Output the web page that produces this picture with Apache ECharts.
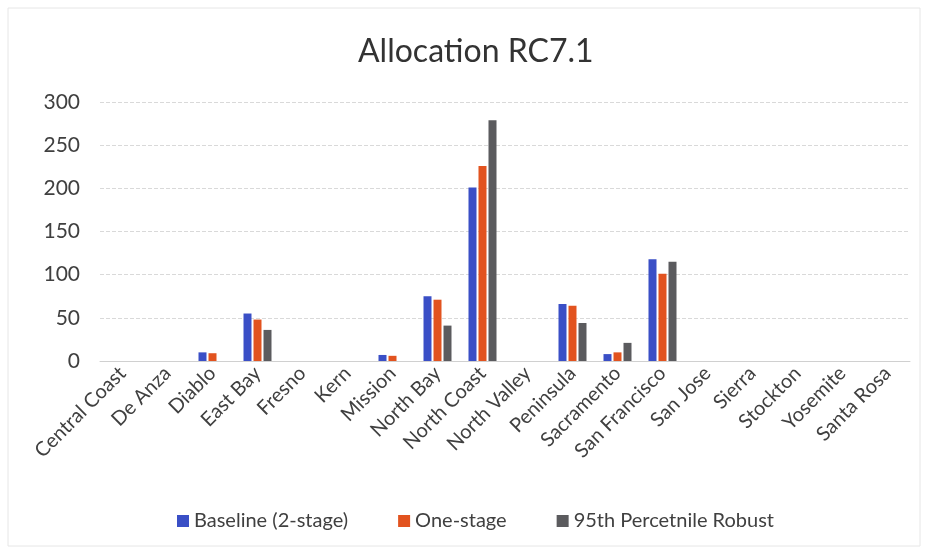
<!DOCTYPE html>
<html>
<head>
<meta charset="utf-8">
<script src="https://cdn.jsdelivr.net/npm/echarts@6/dist/echarts.min.js"></script>
<style>
  html, body { margin: 0; padding: 0; background: #fff; }
  #chart { width: 928px; height: 555px; }
</style>
</head>
<body>
<div id="chart"></div>
<script>
const regions = ['Central Coast', 'De Anza', 'Diablo', 'East Bay', 'Fresno', 'Kern', 'Mission',
  'North Bay', 'North Coast', 'North Valley', 'Peninsula', 'Sacramento', 'San Francisco',
  'San Jose', 'Sierra', 'Stockton', 'Yosemite', 'Santa Rosa'];
const baseline = [0, 0, 10, 55, 0, 0, 7, 75, 201, 0, 66, 8, 118, 0, 0, 0, 0, 0];
const oneStage = [0, 0, 9, 48, 0, 0, 6, 71, 226, 0, 64, 10, 101, 0, 0, 0, 0, 0];
const robust95 = [0, 0, 0, 36, 0, 0, 0, 41, 279, 0, 44, 21, 115, 0, 0, 0, 0, 0];
const yTicks = [0, 50, 100, 150, 200, 250, 300];

const FONT = 'Lato, "Open Sans", sans-serif';
const chart = echarts.init(document.getElementById('chart'));

function barSeries(name, data, color) {
  return {
    name: name,
    type: 'bar',
    data: data,
    barWidth: 8,
    barGap: '25%',
    itemStyle: { color: color }
  };
}

chart.setOption({
  animation: false,
  backgroundColor: '#ffffff',
  title: {
    text: 'Allocation RC7.1',
    left: 353,
    top: 31,
    textStyle: { fontFamily: FONT, fontSize: 32, fontWeight: 'normal', color: '#333333' }
  },
  legend: {
    bottom: 19,
    left: 172,
    itemWidth: 12,
    itemHeight: 12,
    itemGap: 50,
    icon: 'rect',
    textStyle: { fontFamily: FONT, fontSize: 20, color: '#404040' },
    data: ['Baseline (2-stage)', 'One-stage', '95th Percetnile Robust']
  },
  grid: { left: 100, right: 18, top: 102, bottom: 194, containLabel: false },
  xAxis: {
    type: 'category',
    data: regions,
    axisTick: { show: false },
    axisLine: { lineStyle: { color: '#d0d0d0' } },
    axisLabel: {
      rotate: 45,
      interval: 0,
      margin: 9,
      fontFamily: FONT,
      fontSize: 20,
      color: '#404040'
    }
  },
  yAxis: {
    type: 'value',
    min: yTicks[0],
    max: yTicks[yTicks.length - 1],
    interval: 50,
    axisLine: { show: false },
    axisTick: { show: false },
    splitLine: { lineStyle: { color: '#d9d9d9', type: 'dashed', width: 1 } },
    axisLabel: { fontFamily: FONT, fontSize: 21, color: '#404040', margin: 20 }
  },
  series: [
    barSeries('Baseline (2-stage)', baseline, '#3a4fc6'),
    barSeries('One-stage', oneStage, '#e2531f'),
    barSeries('95th Percetnile Robust', robust95, '#5b5b5e')
  ],
  graphic: [{
    type: 'rect',
    shape: { x: 8, y: 8, width: 912, height: 538 },
    style: { fill: 'none', stroke: '#e6e6e6', lineWidth: 1 },
    silent: true
  }]
});
</script>
</body>
</html>
